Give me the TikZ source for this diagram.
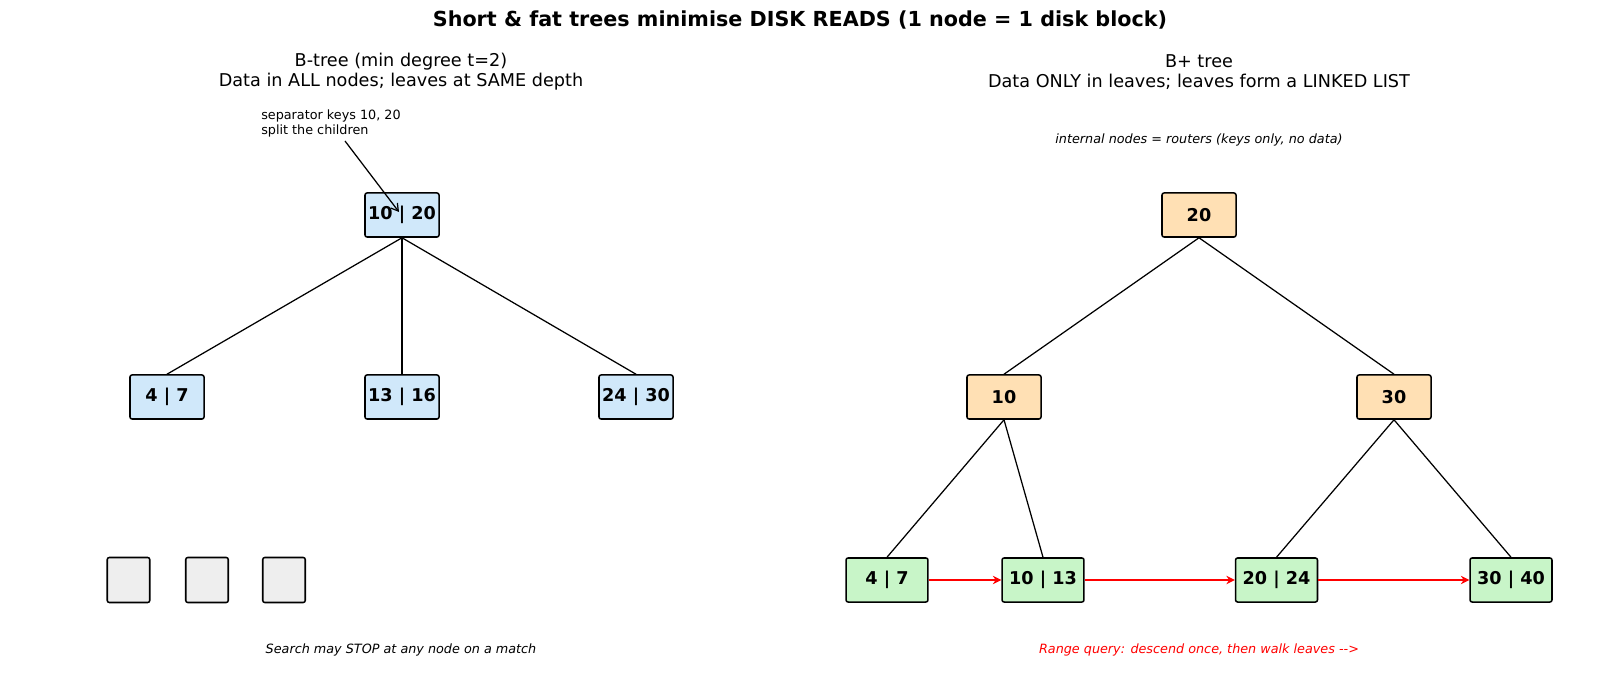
\documentclass[tikz,border=0pt]{standalone}
\usepackage{fontspec}
\setmainfont{DejaVu Sans}
\usetikzlibrary{arrows.meta}
\definecolor{bblue}{RGB}{208,232,250}
\definecolor{borange}{RGB}{255,224,180}
\definecolor{bgreen}{RGB}{200,245,200}
\definecolor{bgrey}{RGB}{238,238,238}
\begin{document}
\begin{tikzpicture}[x=0.72pt,y=-0.72pt,
  box/.style={draw=black, line width=1.1pt, rounded corners=1.5pt, minimum height=31.7pt, inner sep=0pt, font=\fontsize{12.7}{14}\selectfont\bfseries},
  bnode/.style={box, fill=bblue, minimum width=53.3pt},
  inode/.style={box, fill=borange, minimum width=53.3pt},
  leaf/.style={box, fill=bgreen, minimum width=59pt},
  emptyleaf/.style={box, fill=bgrey, minimum width=30.6pt, minimum height=32.4pt},
  edge/.style={line width=0.9pt},
  link/.style={draw=red, line width=1.7pt, -{Stealth[length=6pt,width=6pt]}},
  note/.style={font=\fontsize{9.2}{10.8}\selectfont, align=left, inner sep=0pt},
  caption/.style={font=\fontsize{9.2}{10.8}\selectfont\itshape, inner sep=0pt},
  subtitle/.style={font=\fontsize{12.7}{14.4}\selectfont, align=center, inner sep=0pt},
]
\useasboundingbox (0,0) rectangle (1600,683);

% title
\node[font=\fontsize{14.9}{16}\selectfont\bfseries, inner sep=0pt] (title) at (800,20.5) {Short \& fat trees minimise DISK READS (1 node = 1 disk block)};

% subtitles
\node[subtitle] (lsub) at (401,72) {B-tree (min degree t=2)\\Data in ALL nodes; leaves at SAME depth};
\node[subtitle] (rsub) at (1199,72) {B+ tree\\Data ONLY in leaves; leaves form a LINKED LIST};

% ---------- B-tree ----------
\node[bnode] (broot) at (402,215) {10 | 20};
\node[bnode] (b1) at (167,397) {4 | 7};
\node[bnode] (b2) at (402,397) {13 | 16};
\node[bnode] (b3) at (636,397) {24 | 30};
\node[emptyleaf] (e1) at (128.5,580) {};
\node[emptyleaf] (e2) at (207,580) {};
\node[emptyleaf] (e3) at (284,580) {};

\draw[edge] (broot.south) -- (b1.north);
\draw[edge] (broot.south) -- (b2.north);
\draw[edge] (broot.south) -- (b3.north);

\node[note, anchor=west] (sep) at (261,123.5) {separator keys 10, 20\\split the children};
\coordinate (septail) at (345,141);
\coordinate (sephead) at (399,212);
\draw[line width=0.9pt, -{Straight Barb[length=5pt,width=6pt]}] (septail) -- (sephead);

\node[caption] (lcap) at (401,650) {Search may STOP at any node on a match};

% ---------- B+ tree ----------
\node[caption] (rnote) at (1199,139.5) {internal nodes = routers (keys only, no data)};

\node[inode] (proot) at (1199,215) {20};
\node[inode] (p1) at (1004,397) {10};
\node[inode] (p2) at (1394,397) {30};
\node[leaf] (l1) at (887,580) {4 | 7};
\node[leaf] (l2) at (1043,580) {10 | 13};
\node[leaf] (l3) at (1276.5,580) {20 | 24};
\node[leaf] (l4) at (1511,580) {30 | 40};

\draw[edge] (proot.south) -- (p1.north);
\draw[edge] (proot.south) -- (p2.north);
\draw[edge] (p1.south) -- (l1.north);
\draw[edge] (p1.south) -- (l2.north);
\draw[edge] (p2.south) -- (l3.north);
\draw[edge] (p2.south) -- (l4.north);

\draw[link] (l1.east) -- (l2.west);
\draw[link] (l2.east) -- (l3.west);
\draw[link] (l3.east) -- (l4.west);

\node[caption, text=red] (rcap) at (1199,650) {Range query: descend once, then walk leaves -{}->};
\end{tikzpicture}
\end{document}
